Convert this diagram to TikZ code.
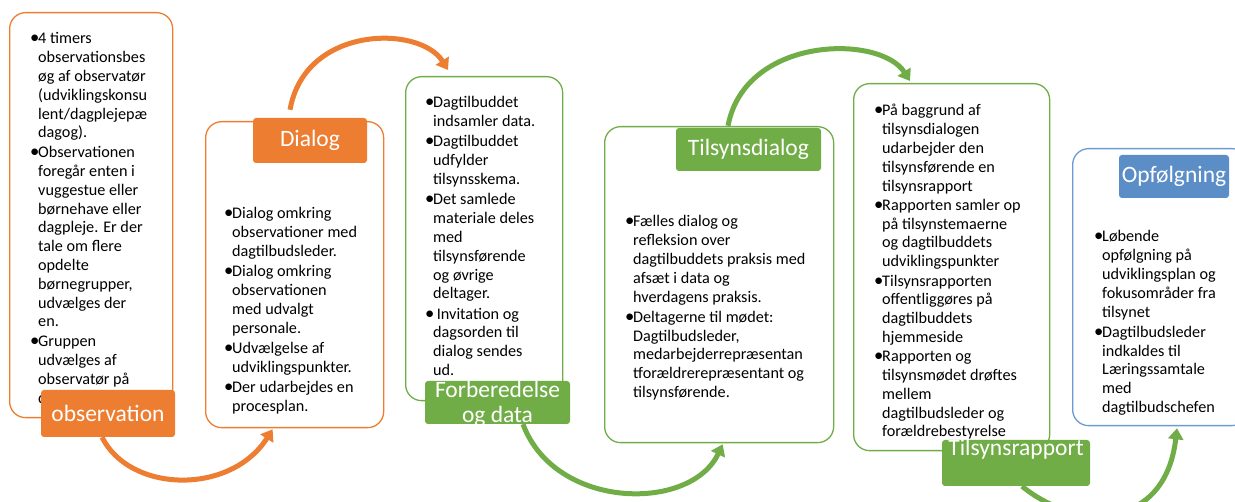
\documentclass[tikz,border=0pt]{standalone}
\usepackage{fontspec}
\setmainfont{Carlito}
\usetikzlibrary{arrows.meta}
\definecolor{org}{HTML}{ED7D31}
\definecolor{grn}{HTML}{70AD47}
\definecolor{blu}{HTML}{5B8DC7}
\definecolor{blub}{HTML}{6C9BD2}
\newcommand\bul{\scalebox{1.15}{•}}
\tikzset{
  box/.style={draw=#1, line width=1.3pt, fill=white, rounded corners=16pt, inner sep=0pt, anchor=north west},
  lab/.style={fill=#1, rounded corners=3pt, text=white, font=\fontsize{23.5}{25}\selectfont, inner sep=0pt},
  body/.style={anchor=north west, inner sep=0pt, font=\fontsize{16.2}{18.8}\selectfont},
  flow/.style={draw=#1, line width=5pt, -{Triangle[length=11pt,width=15pt]}},
}
\begin{document}
\begin{tikzpicture}[x=1pt,y=-1pt]
\useasboundingbox (0,0) rectangle (1235,502);
% boxes
\node[box=org, minimum width=163pt, minimum height=405pt] (b1) at (9,12) {};
\node[box=org, minimum width=178pt, minimum height=306pt] (b2) at (205,121) {};
\node[box=grn, minimum width=157pt, minimum height=324pt] (b3) at (405,76) {};
\node[box=grn, minimum width=229pt, minimum height=316pt] (b4) at (604,126) {};
\node[box=grn, minimum width=196pt, minimum height=367pt] (b5) at (853,83) {};
\node[box=blub, minimum width=175pt, minimum height=277pt] (b6) at (1072,148) {};
% body texts
\node[body] (t1) at (30,30.5) {\begin{tabular}{@{}p{8pt}@{}l@{}}
\bul&4 timers\\
&observationsbes\\
&øg af observatør\\
&(udviklingskonsu\\
&lent/dagplejepæ\\
&dagog).\\[1pt]
\bul&Observationen\\
&foregår enten i\\
&vuggestue eller\\
&børnehave eller\\
&dagpleje. Er der\\
&tale om flere\\
&opdelte\\
&børnegrupper,\\
&udvælges der\\
&en.\\[1pt]
\bul&Gruppen\\
&udvælges af\\
&observatør på\\
&dagen.
\end{tabular}};
\node[body] (t2) at (224,205.5) {\begin{tabular}{@{}p{8pt}@{}l@{}}
\bul&Dialog omkring\\
&observationer med\\
&dagtilbudsleder.\\[1.5pt]
\bul&Dialog omkring\\
&observationen\\
&med udvalgt\\
&personale.\\[1.5pt]
\bul&Udvælgelse af\\
&udviklingspunkter.\\[1.5pt]
\bul&Der udarbejdes en\\
&procesplan.
\end{tabular}};
\node[body] (t3) at (425,94.5) {\begin{tabular}{@{}p{8pt}@{}l@{}}
\bul&Dagtilbuddet\\
&indsamler data.\\[1.5pt]
\bul&Dagtilbuddet\\
&udfylder\\
&tilsynsskema.\\[1.5pt]
\bul&Det samlede\\
&materiale deles\\
&med\\
&tilsynsførende\\
&og øvrige\\
&deltager.\\[1.5pt]
\bul&\ Invitation og\\
&dagsorden til\\
&dialog sendes\\
&ud.
\end{tabular}};
\node[body] (t4) at (625,213.5) {\begin{tabular}{@{}p{8pt}@{}l@{}}
\bul&Fælles dialog og\\
&refleksion over\\
&dagtilbuddets praksis med\\
&afsæt i data og\\
&hverdagens praksis.\\[1.5pt]
\bul&Deltagerne til mødet:\\
&Dagtilbudsleder,\\
&medarbejderrepræsentan\\
&tforældrerepræsentant og\\
&tilsynsførende.
\end{tabular}};
\node[body] (t5) at (874,102.5) {\begin{tabular}{@{}p{8pt}@{}l@{}}
\bul&På baggrund af\\
&tilsynsdialogen\\
&udarbejder den\\
&tilsynsførende en\\
&tilsynsrapport\\[0.5pt]
\bul&Rapporten samler op\\
&på tilsynstemaerne\\
&og dagtilbuddets\\
&udviklingspunkter\\[0.5pt]
\bul&Tilsynsrapporten\\
&offentliggøres på\\
&dagtilbuddets\\
&hjemmeside\\[0.5pt]
\bul&Rapporten og\\
&tilsynsmødet drøftes\\
&mellem\\
&dagtilbudsleder og\\
&forældrebestyrelse
\end{tabular}};
\node[body] (t6) at (1094,228.5) {\begin{tabular}{@{}p{8pt}@{}l@{}}
\bul&Løbende\\
&opfølgning på\\
&udviklingsplan og\\
&fokusområder fra\\
&tilsynet\\[1.5pt]
\bul&Dagtilbudsleder\\
&indkaldes til\\
&Læringssamtale\\
&med\\
&dagtilbudschefen
\end{tabular}};
% labels
\node[lab=org, minimum width=134pt, minimum height=47pt] (obs) at (108,413.5) {observation};
\node[lab=org, minimum width=114pt, minimum height=45pt] (dlg) at (310,140.5) {Dialog};
\node[lab=grn, minimum width=145pt, minimum height=43pt] (fd) at (497.5,402.5) {};
\node[text=white, font=\fontsize{23.5}{25}\selectfont, align=center, inner sep=0pt] (fdt) at (497.5,403.5) {Forberedelse\\og data};
\node[lab=grn, minimum width=145pt, minimum height=43pt] (td) at (748.5,149.5) {Tilsynsdialog};
\node[lab=grn, minimum width=148pt, text height=16pt, text depth=30pt] (tsr) at (1016,463) {Tilsynsrapport};
\node[lab=blu, minimum width=110pt, minimum height=43pt] (opf) at (1174,176.5) {Opfølgning};
% connectors
\draw[flow=org] ([xshift=-6pt]obs.south) .. controls +(28,56) and +(-42,66) .. ([xshift=-22pt,yshift=-1pt]b2.south);
\draw[flow=org] ([xshift=-20pt,yshift=8pt]dlg.north) .. controls +(15,-85) and +(-28,-45) .. ([xshift=43pt,yshift=6pt]b3.north west);
\draw[flow=grn] ([xshift=25.5pt]fd.south) .. controls +(32,86) and +(-32,68) .. ([xshift=3.5pt,yshift=-1pt]b4.south);
\draw[flow=grn] ([xshift=-20.5pt,yshift=2pt]td.north) .. controls +(17,-90) and +(-30,-47) .. ([xshift=57pt,yshift=2pt]b5.north west);
\draw[flow=grn] ([xshift=6pt]tsr.south) .. controls +(53,44) and +(-12,103) .. ([xshift=105pt,yshift=-2pt]b6.south west);
\end{tikzpicture}
\end{document}
